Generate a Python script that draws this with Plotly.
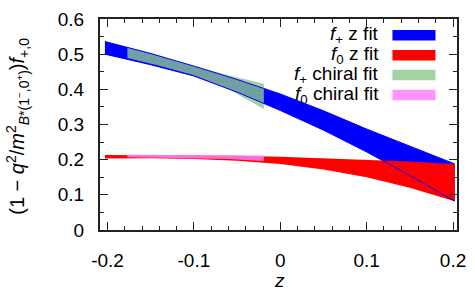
import plotly.graph_objects as go

# ---- data ----
z_grid = [-0.203, -0.15, -0.10, -0.05, 0.0, 0.05, 0.10, 0.15, 0.202]
fplus_z_hi = [0.536, 0.502, 0.466, 0.428, 0.387, 0.339, 0.287, 0.238, 0.188]
fplus_z_lo = [0.500, 0.470, 0.438, 0.392, 0.340, 0.284, 0.222, 0.155, 0.082]
fzero_z_hi = [0.213, 0.213, 0.212, 0.211, 0.208, 0.205, 0.200, 0.195, 0.187]
fzero_z_lo = [0.203, 0.204, 0.202, 0.197, 0.188, 0.172, 0.150, 0.120, 0.082]

z_chiral = [-0.177, -0.14, -0.10, -0.06, -0.019]
fplus_ch_hi = [0.519, 0.494, 0.466, 0.440, 0.416]
fplus_ch_lo = [0.489, 0.467, 0.440, 0.400, 0.344]
fzero_ch_hi = [0.214, 0.213, 0.212, 0.212, 0.212]
fzero_ch_lo = [0.207, 0.206, 0.205, 0.202, 0.196]

x_ticks = [-0.2, -0.1, 0.0, 0.1, 0.2]
x_tick_text = ["-0.2", "-0.1", "0", "0.1", "0.2"]
y_ticks = [0, 0.1, 0.2, 0.3, 0.4, 0.5, 0.6]
y_tick_text = ["0", "0.1", "0.2", "0.3", "0.4", "0.5", "0.6"]

legend_labels = ["<i>f</i><sub>+</sub> z fit", "<i>f</i><sub>0</sub> z fit",
                 "<i>f</i><sub>+</sub> chiral fit", "<i>f</i><sub>0</sub> chiral fit"]

BLUE = "rgb(0,0,255)"
RED = "rgb(255,0,0)"
GREEN = "rgba(140,200,140,0.8)"
MAGENTA = "rgba(255,128,255,0.85)"
colors = [BLUE, RED, GREEN, MAGENTA]

FONT = "Liberation Sans, Arial, sans-serif"
FS = 19


def band(x, lo, hi, color):
    xs = list(x) + list(x)[::-1]
    ys = list(lo) + list(hi)[::-1]
    return go.Scatter(x=xs, y=ys, fill="toself", fillcolor=color, mode="lines",
                      line=dict(width=0, color=color), showlegend=False,
                      hoverinfo="skip")


fig = go.Figure()
fig.add_trace(band(z_grid, fplus_z_lo, fplus_z_hi, BLUE))
fig.add_trace(band(z_grid, fzero_z_lo, fzero_z_hi, RED))
fig.add_trace(band(z_chiral, fplus_ch_lo, fplus_ch_hi, GREEN))
fig.add_trace(band(z_chiral, fzero_ch_lo, fzero_ch_hi, MAGENTA))
# blue band edges drawn on top
for edge in (fplus_z_lo, fplus_z_hi):
    fig.add_trace(go.Scatter(x=z_grid, y=edge, mode="lines", line=dict(color=BLUE, width=1),
                             showlegend=False, hoverinfo="skip"))

# plot area in pixels: x 100..465, y 9..230
L, R, T, B = 100, 465, 9, 230
W, H = 475, 290


def px(x):
    return (x - L) / (R - L)


def py(y):
    return (B - y) / (B - T)


# manual legend (text right-aligned, swatch on right)
rows = [26, 47, 67.7, 88.7]
for lab, col, yc in zip(legend_labels, colors, rows):
    fig.add_annotation(x=px(387), y=py(yc), xref="paper", yref="paper", text=lab,
                       showarrow=False, xanchor="right", yanchor="middle",
                       font=dict(family=FONT, size=FS, color="black"))
    fig.add_shape(type="rect", xref="paper", yref="paper", x0=px(399), x1=px(443),
                  y0=py(yc + 5.5), y1=py(yc - 5.5), fillcolor=col, line=dict(width=0))

# axis titles
fig.add_annotation(x=px(16), y=py(121), xref="paper", yref="paper",
                   text="(1 − <i>q</i><sup>2</sup>/<i>m</i><sup>2</sup><sub><i>B</i>*(1<sup>−</sup>,0<sup>+</sup>)</sub>)<i>f</i><sub>+,0</sub>",
                   textangle=-90, showarrow=False, xanchor="center", yanchor="middle",
                   font=dict(family=FONT, size=20, color="black"))
fig.add_annotation(x=px(284), y=py(283), xref="paper", yref="paper", text="<i>z</i>",
                   showarrow=False, xanchor="center", yanchor="middle",
                   font=dict(family=FONT, size=FS, color="black"))

axis_common = dict(showgrid=False, zeroline=False, showline=True, linecolor="#222",
                   linewidth=2, ticks="inside", ticklen=8, tickwidth=1.3, tickcolor="#222",
                   mirror="allticks", tickfont=dict(family=FONT, size=FS, color="black"))

fig.update_xaxes(range=[-0.2087, 0.2046], tickvals=x_ticks, ticktext=x_tick_text,
                 minor=dict(dtick=0.02, ticks="inside", ticklen=4, tickwidth=1, tickcolor="#222"),
                 ticklabelstandoff=12, **axis_common)
fig.update_yaxes(range=[0, 0.6], tickvals=y_ticks, ticktext=y_tick_text,
                 minor=dict(dtick=0.05, ticks="inside", ticklen=4, tickwidth=1, tickcolor="#222"),
                 ticklabelstandoff=10, **axis_common)

fig.update_layout(width=W, height=H, margin=dict(l=L, r=W - R, t=T, b=H - B),
                  plot_bgcolor="white", paper_bgcolor="white", showlegend=False)

fig.write_html("out.html")
